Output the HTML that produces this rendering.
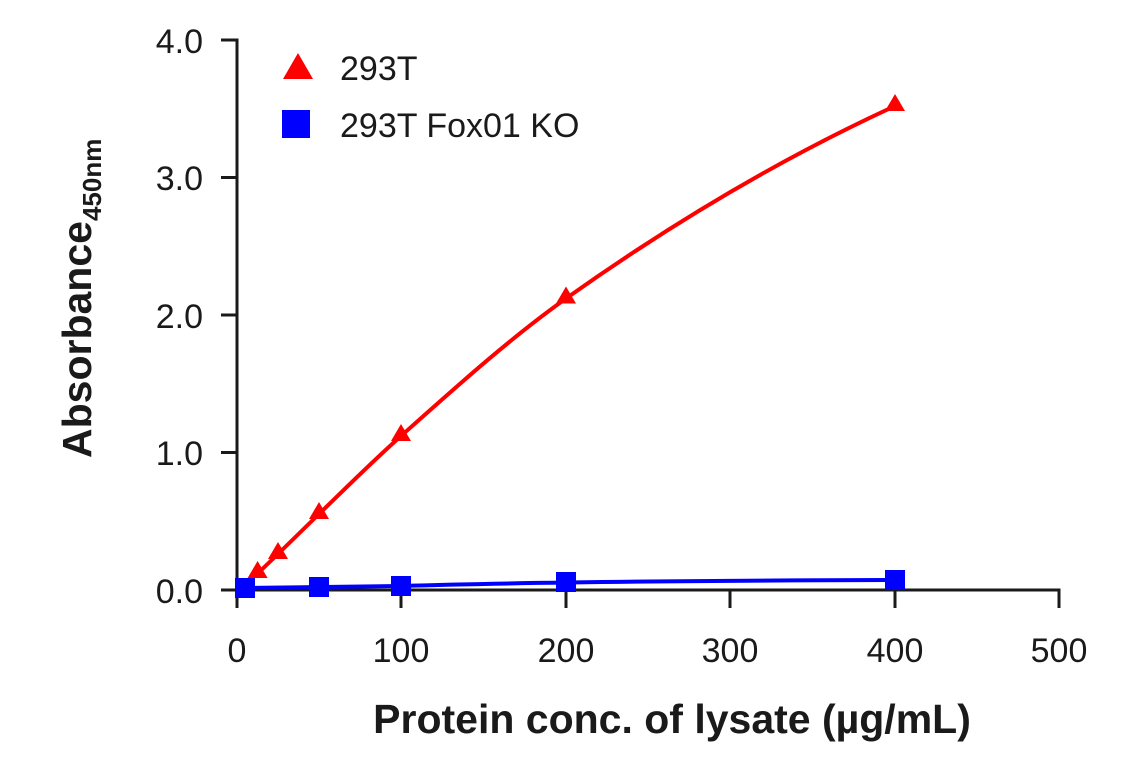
<!DOCTYPE html>
<html><head><style>body{margin:0;background:#fff}</style></head><body>
<svg width="1141" height="768" xmlns="http://www.w3.org/2000/svg" style="font-family:'Liberation Sans',sans-serif;font-weight:bold;fill:#1a1a1a">
<g stroke="#1a1a1a" stroke-width="3" fill="none">
<path d="M221 40 H237 V608"/>
<path d="M221 177.5H237M221 315H237M221 452.5H237M221 590H237"/>
<path d="M237 590 H1059 V608"/>
<path d="M401 590V608M566 590V608M730 590V608M895 590V608"/>
</g>
<g font-size="34" text-anchor="end" font-weight="normal">
<text x="203" y="53">4.0</text><text x="203" y="190">3.0</text><text x="203" y="328">2.0</text><text x="203" y="465">1.0</text><text x="203" y="603">0.0</text>
</g>
<g font-size="34" text-anchor="middle" font-weight="normal">
<text x="237" y="662">0</text><text x="401" y="662">100</text><text x="566" y="662">200</text><text x="730" y="662">300</text><text x="895" y="662">400</text><text x="1059" y="662">500</text>
</g>
<text x="672" y="733" font-size="41" text-anchor="middle">Protein conc. of lysate (µg/mL)</text>
<text transform="translate(91,458) rotate(-90)" font-size="41">Absorbance<tspan font-size="26" dy="10">450nm</tspan></text>
<path d="M257.6 573.5 C264.4 567 271.2 560.6 278 554 C291.7 540.8 305.3 527.2 319 514 C346.3 487.7 373.7 460.3 401 436 C456 387 511 337.5 566 298.5 C675.7 220.6 785.3 156.4 895 106" stroke="#f00" stroke-width="4" fill="none"/>
<path d="M245 588 L401 586 Q566 581 895 580" stroke="#00f" stroke-width="4" fill="none"/>
<g fill="#f00">
<path d="M257.6 561l-10 17h20z"/><path d="M278 542l-10 17h20z"/><path d="M319 502l-10 17h20z"/><path d="M401 424l-10 17h20z"/><path d="M566 286.5l-10 17h20z"/><path d="M895 94l-10 17h20z"/>
<path d="M298 53l-15 26h30z"/>
</g>
<g fill="#00f">
<rect x="235" y="578" width="20" height="20"/><rect x="309" y="577" width="20" height="20"/><rect x="391" y="576" width="20" height="20"/><rect x="556" y="572" width="20" height="20"/><rect x="885" y="570" width="20" height="20"/>
<rect x="282" y="110" width="28" height="28"/>
</g>
<g font-size="34" font-weight="normal">
<text x="340" y="80">293T</text><text x="340" y="137">293T Fox01 KO</text>
</g>
</svg>
</body></html>
